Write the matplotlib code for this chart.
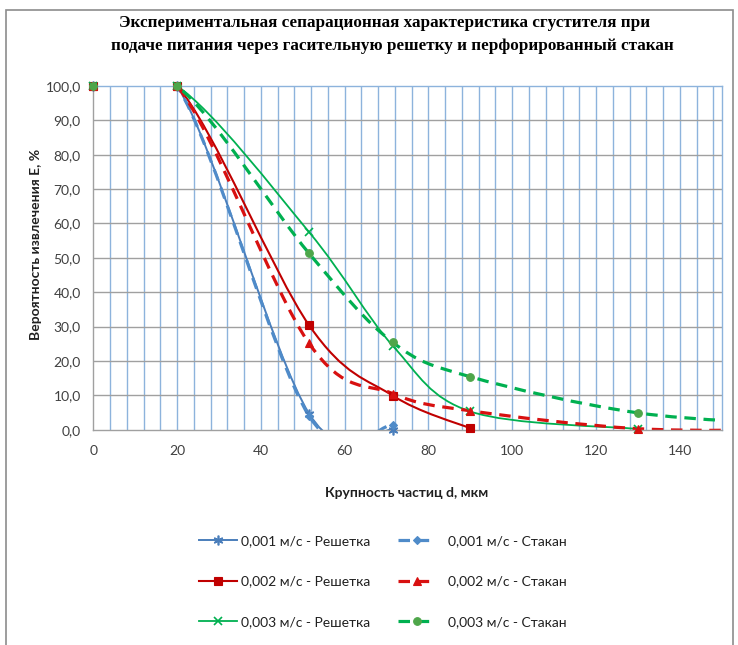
import numpy as np
import matplotlib
matplotlib.use("Agg")
import matplotlib.pyplot as plt
from matplotlib.path import Path
from matplotlib.patches import PathPatch, Rectangle
from matplotlib.lines import Line2D

plt.rcParams['font.family'] = ['Lato', 'DejaVu Sans']

# particle size, um
d_grid_1 = [0, 20, 51.5, 71.5]
d_grid_2 = [0, 20, 51.5, 71.5, 90]
d_grid_3 = [0, 20, 51.5, 71.5, 90, 130]
d_cup_1 = [0, 20, 51.5, 71.5]
d_cup_2 = [0, 20, 51.5, 71.5, 90, 130, 170]
d_cup_3 = [0, 20, 51.5, 71.5, 90, 130, 170]

# recovery probability E, %
e_grid_1 = [100, 100, 4.7, 0.0]
e_grid_2 = [100, 100, 30.4, 9.9, 0.4]
e_grid_3 = [100, 100, 57.5, 24.4, 5.3, 0.2]
e_cup_1 = [100, 100, 4.0, 1.4]
e_cup_2 = [100, 100, 25.1, 10.5, 5.5, 0.3, 0.0]
e_cup_3 = [100, 100, 51.3, 25.4, 15.4, 4.9, 1.5]

labels = ['0,001 м/с - Решетка', '0,002 м/с - Решетка', '0,003 м/с - Решетка',
          '0,001 м/с - Стакан', '0,002 м/с - Стакан', '0,003 м/с - Стакан']

y_ticks = [0, 10, 20, 30, 40, 50, 60, 70, 80, 90, 100]
y_tick_labels = ['0,0', '10,0', '20,0', '30,0', '40,0', '50,0', '60,0', '70,0', '80,0', '90,0', '100,0']
x_ticks = [0, 20, 40, 60, 80, 100, 120, 140]
x_tick_labels = ['0', '20', '40', '60', '80', '100', '120', '140']


def smooth_path(x, y):
    # excel-like smoothed line: cubic bezier, control points from neighbours / 6
    p = np.column_stack([x, y]).astype(float)
    n = len(p)
    verts = [p[0]]
    codes = [Path.MOVETO]
    for i in range(n - 1):
        p0 = p[i - 1] if i > 0 else p[i]
        p3 = p[i + 2] if i + 2 < n else p[i + 1]
        c1 = p[i] + (p[i + 1] - p0) / 6.0
        c2 = p[i + 1] - (p3 - p[i]) / 6.0
        verts += [c1, c2, p[i + 1]]
        codes += [Path.CURVE4] * 3
    return Path(verts, codes)


blue = '#4A7EBB'
blue2 = '#4F8BC9'
red = '#C00000'
red2 = '#D81010'
green = '#00B050'
green2 = '#00B050'
green_mk = '#4EA64A'

dash = (0, (3.6, 2.4))
asterisk = (6, 2, 0)

series = [
    (d_grid_1, e_grid_1, blue, 1.4, '-', asterisk, blue, 7),
    (d_grid_2, e_grid_2, red, 1.5, '-', 's', red, 5.5),
    (d_grid_3, e_grid_3, green, 1.3, '-', 'x', green, 6),
    (d_cup_1, e_cup_1, blue2, 2.3, dash, 'D', blue2, 4.5),
    (d_cup_2, e_cup_2, red2, 2.3, dash, '^', red2, 6),
    (d_cup_3, e_cup_3, green2, 2.3, dash, 'o', green_mk, 5.5),
]

fig = plt.figure(figsize=(7.38, 6.45), dpi=100)
ax = fig.add_axes([93.3 / 738, 1 - 429.7 / 645, (721.7 - 93.3) / 738, (429.7 - 86) / 645])

ax.set_xlim(0, 150)
ax.set_ylim(0, 100)

# grid
for xv in np.arange(4, 150, 4):
    ax.axvline(xv, color='#8DB3DC', lw=1.0, zorder=0.5)
for yv in y_ticks[1:-1]:
    ax.axhline(yv, color='#A0A0A0', lw=1.0, zorder=0.6)

handles = []
for xs, ys, col, lw, ls, mk, mcol, ms in series:
    patch = PathPatch(smooth_path(xs, ys), fill=False, edgecolor=col, lw=lw,
                      linestyle=ls, capstyle='butt', zorder=2)
    ax.add_patch(patch)
    thin = mk in ('x', asterisk)
    ax.plot(xs, ys, linestyle='none', marker=mk, color=mcol, markersize=ms,
            markeredgewidth=1.2 if thin else 0.8, zorder=3, clip_on=False)
    handles.append(Line2D([], [], color=col, lw=lw, linestyle=ls, marker=mk,
                          markerfacecolor=mcol, markeredgecolor=mcol, markersize=ms,
                          markeredgewidth=1.2 if thin else 0.8))

ax.set_xticks(x_ticks)
ax.set_xticklabels(x_tick_labels)
ax.set_yticks(y_ticks)
ax.set_yticklabels(y_tick_labels)
ax.tick_params(axis='both', length=0, labelsize=10, labelcolor='#404040')
ax.tick_params(axis='y', pad=9)
ax.tick_params(axis='x', pad=11)

ax.spines['left'].set_color('#A0A0A0')
ax.spines['bottom'].set_color('#A0A0A0')
ax.spines['top'].set_color('#8DB3DC')
ax.spines['right'].set_color('#8DB3DC')
for s in ax.spines.values():
    s.set_linewidth(1.0)

fig.text(36 / 738, 1 - 244 / 645, 'Вероятность извлечения Е, %', rotation=90,
         ha='center', va='center', fontsize=10, fontweight='bold', color='#202020')
fig.text(407 / 738, 1 - 493 / 645, 'Крупность частиц d, мкм', ha='center', va='center',
         fontsize=10, fontweight='bold', color='#202020')

fig.text(385 / 738, 1 - 23 / 645, 'Экспериментальная сепарационная характеристика сгустителя при',
         ha='center', va='center', fontsize=12.3, fontweight='bold', family='Liberation Serif')
fig.text(392 / 738, 1 - 46 / 645, 'подаче питания через гасительную решетку и перфорированный стакан',
         ha='center', va='center', fontsize=12.3, fontweight='bold', family='Liberation Serif')

leg1 = fig.legend(handles[:3], labels[:3], loc='upper left',
                  bbox_to_anchor=(199 / 738, 1 - 535 / 645), frameon=False, borderpad=0,
                  borderaxespad=0, handlelength=2.7, handletextpad=0.35, labelspacing=2.05,
                  fontsize=10)
leg2 = fig.legend(handles[3:], labels[3:], loc='upper left',
                  bbox_to_anchor=(398 / 738, 1 - 535 / 645), frameon=False, borderpad=0,
                  borderaxespad=0, handlelength=2.7, handletextpad=0.9, labelspacing=2.05,
                  fontsize=10)
for leg in (leg1, leg2):
    for t in leg.get_texts():
        t.set_color('#202020')

fig.patches.append(Rectangle((6 / 738, -0.01), (733 - 6) / 738, 1 - 10 / 645 + 0.01,
                             transform=fig.transFigure, fill=False, edgecolor='#8C8C8C', lw=1.2))

fig.savefig('out.png', dpi=100)
